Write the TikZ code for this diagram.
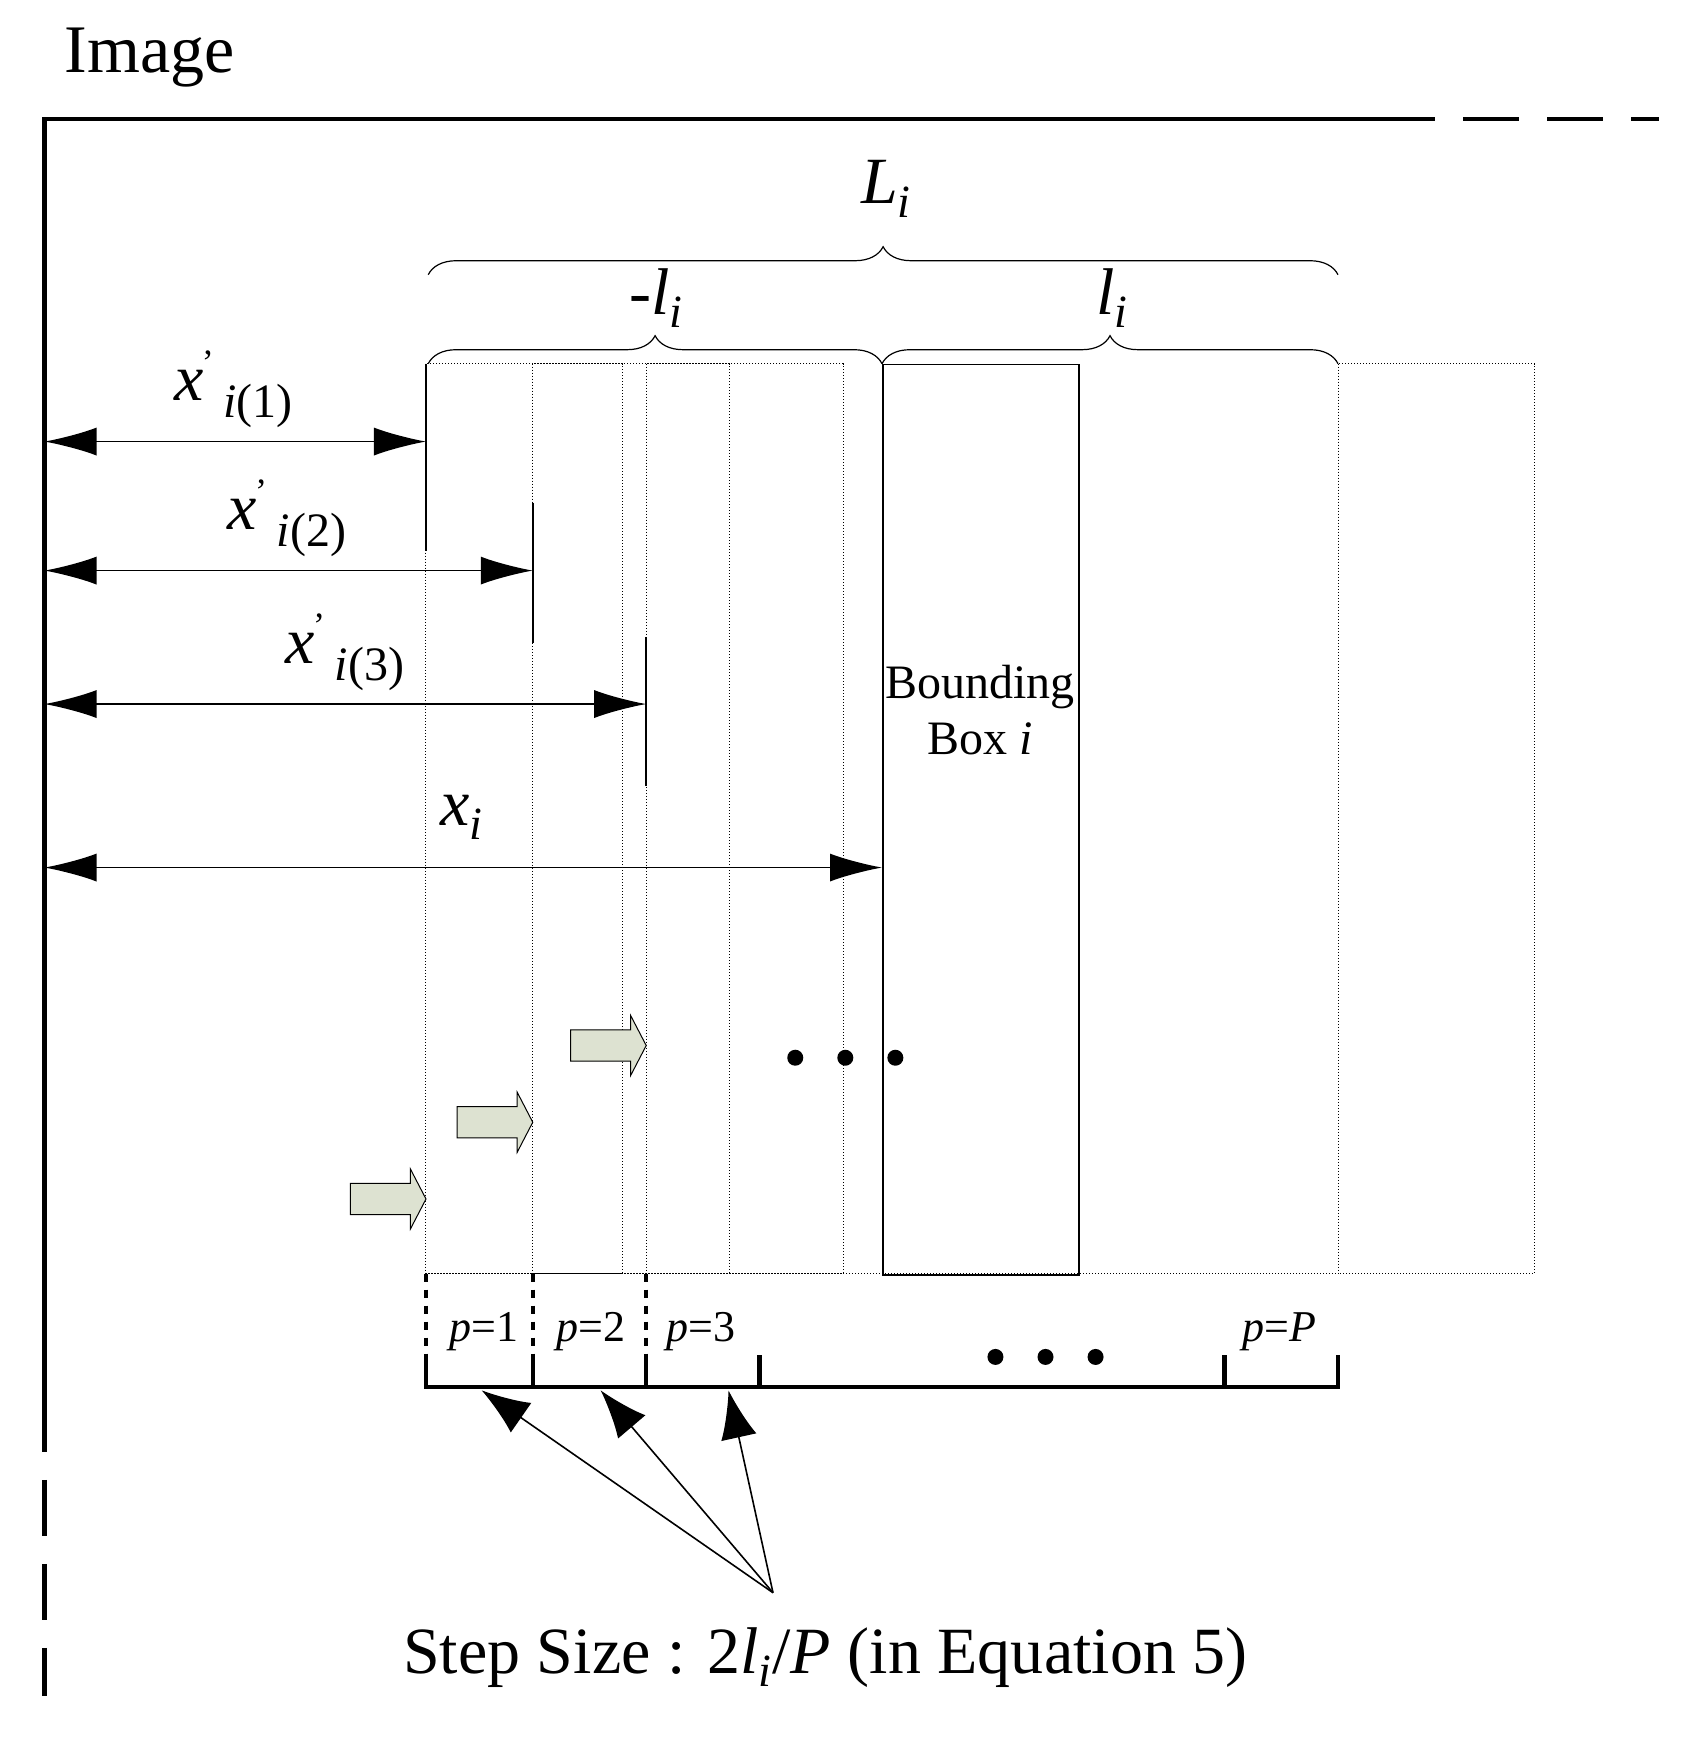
\documentclass[tikz,border=0pt]{standalone}
\usepackage{fontspec}
\setmainfont{Liberation Serif}
\usetikzlibrary{arrows.meta,decorations.pathreplacing}
\begin{document}
\begin{tikzpicture}[x=0.556pt,y=-0.556pt,
  ax/.style={line width=2.2pt},
  dot/.style={densely dotted,line width=0.5pt},
  dim/.style={line width=0.8pt,{Latex[length=26pt,width=14pt]}-{Latex[length=26pt,width=14pt]}},
  brc/.style={decorate,decoration={brace,amplitude=14pt},line width=0.6pt},
  blk/.style={draw,fill={rgb,255:red,221;green,226;blue,209},line width=0.5pt},
  lab/.style={font=\fontsize{33}{33}\selectfont\itshape},
  pt/.style={font=\fontsize{22}{22}\selectfont},
  stp/.style={line width=0.8pt,-{Latex[length=24pt,width=18pt]}}]
\useasboundingbox (0,0) rectangle (1530,1586);
\node[font=\fontsize{34}{34}\selectfont,anchor=west] at (52,52) {Image};
\coordinate (o) at (40,107);
\coordinate (hx) at (1240,107); \coordinate (hd) at (1492,107);
\coordinate (vy) at (40,1255); \coordinate (vd) at (40,1525);
\draw[ax] (hx) -- (o) -- (vy);
\draw[ax,dash pattern=on 28pt off 14pt] (hx) -- (hd);
\draw[ax,dash pattern=on 28pt off 14pt] (vy) -- (vd);
% braces
\draw[brc] (385,247) -- (1203,247);
\node[lab] at (797,170) {L\textsubscript{\itshape i}};
\draw[brc] (385,327) -- (793,327);
\draw[brc] (793,327) -- (1203,327);
\node[lab] at (590,268) {-l\textsubscript{\itshape i}};
\node[lab] at (1000,268) {l\textsubscript{\itshape i}};
% rectangles
\draw[dot] (383,327) rectangle (560,1145);
\draw[dot] (479,327) rectangle (656,1145);
\draw[dot] (581,327) rectangle (758,1145);
\draw[dot] (1203,327) rectangle (1380,1145);
\draw[dot] (383,1145) -- (1203,1145);
\node[draw,line width=0.8pt,minimum width=98pt,minimum height=455pt,inner sep=0pt,anchor=north west] (bb) at (793,327) {};
\node[font=\fontsize{24}{28}\selectfont,align=center] at (881,638) {Bounding\\Box \textit{i}};
\draw[line width=0.8pt] (383,327) -- (383,495);
\draw[line width=0.8pt] (479,452) -- (479,578);
\draw[line width=0.8pt] (581,573) -- (581,707);
% dimension arrows
\coordinate (a1) at (40,397); \coordinate (b1) at (383,397);
\coordinate (a2) at (40,513); \coordinate (b2) at (479,513);
\coordinate (a3) at (40,633); \coordinate (b3) at (581,633);
\coordinate (a4) at (40,780); \coordinate (b4) at (793,780);
\draw[dim] (a1) -- (b1); \draw[dim] (a2) -- (b2);
\draw[dim] (a3) -- (b3); \draw[dim] (a4) -- (b4);
\node[lab] at (210,350) {x\raisebox{0.7em}{\fontsize{18}{18}\selectfont\upshape ,}\,\fontsize{24}{24}\selectfont\raisebox{-0.35em}{i\upshape (1)}};
\node[lab] at (258,466) {x\raisebox{0.7em}{\fontsize{18}{18}\selectfont\upshape ,}\,\fontsize{24}{24}\selectfont\raisebox{-0.35em}{i\upshape (2)}};
\node[lab] at (310,586) {x\raisebox{0.7em}{\fontsize{18}{18}\selectfont\upshape ,}\,\fontsize{24}{24}\selectfont\raisebox{-0.35em}{i\upshape (3)}};
\node[lab] at (415,735) {x\textsubscript{\itshape i}};
% block arrows
\foreach \t/\y in {383/1078,479/1009,581/940}
  \draw[blk] (\t-68,\y-14) -- (\t-14,\y-14) -- (\t-14,\y-27) -- (\t,\y) -- (\t-14,\y+27) -- (\t-14,\y+14) -- (\t-68,\y+14) -- cycle;
\foreach \x in {715,760,805} \fill (\x,951) circle (4pt);
% bottom axis
\draw[ax] (383,1218) -- (383,1247) -- (1203,1247) -- (1203,1218);
\foreach \x in {479,581,683,1101} \draw[ax] (\x,1247) -- (\x,1218);
\foreach \x in {383,479,581} \draw[ax,dash pattern=on 4pt off 4pt] (\x,1145) -- (\x,1218);
\node[pt] at (435,1197) {\textit{p}=1};
\node[pt] at (531,1197) {\textit{p}=2};
\node[pt] at (630,1197) {\textit{p}=3};
\node[pt] at (1150,1197) {\textit{p}=\textit{P}};
\foreach \x in {895,940,985} \fill (\x,1220) circle (4pt);
% step arrows
\coordinate (src) at (695,1432);
\coordinate (t1) at (433,1250); \coordinate (t2) at (540,1250); \coordinate (t3) at (655,1250);
\draw[stp] (src) -- (t1); \draw[stp] (src) -- (t2); \draw[stp] (src) -- (t3);
\node[font=\fontsize{33}{33}\selectfont] at (742,1490) {Step Size : 2\textit{l\textsubscript{i}}/\textit{P} (in Equation 5)};
\end{tikzpicture}
\end{document}
